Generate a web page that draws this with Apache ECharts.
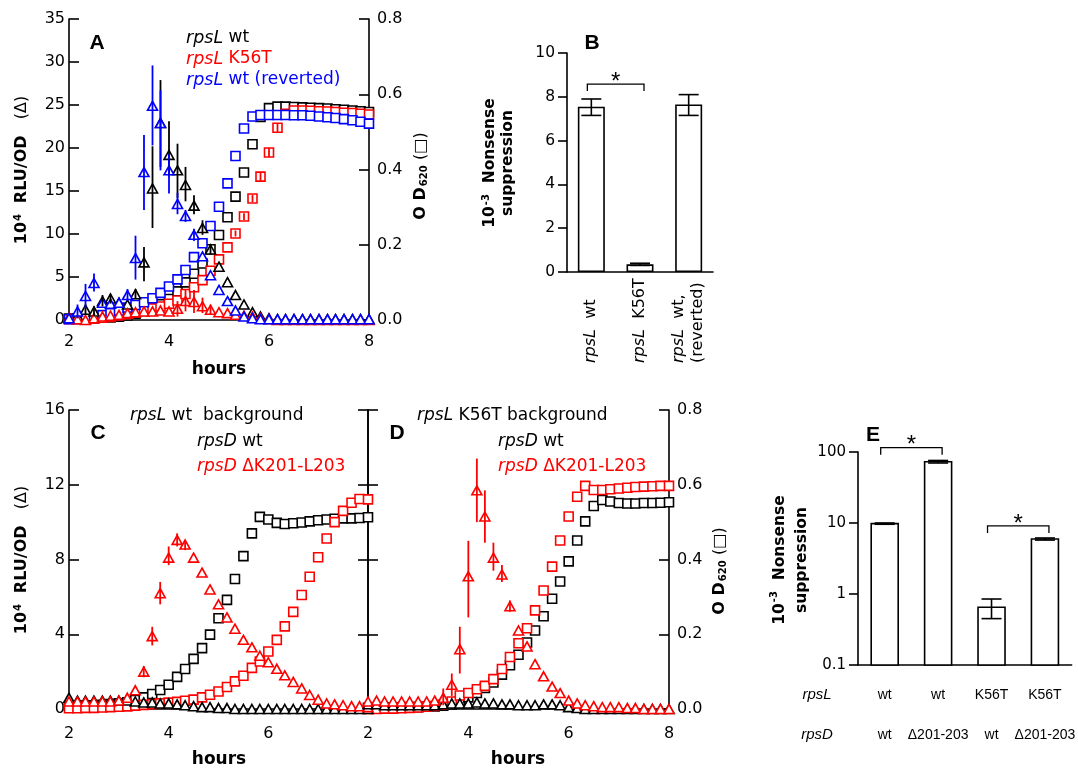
<!DOCTYPE html>
<html>
<head>
<meta charset="utf-8">
<script src="https://cdn.jsdelivr.net/npm/echarts@6/dist/echarts.min.js"></script>
<style>
  html, body { margin: 0; padding: 0; background: #fff; }
  #chart { width: 1078px; height: 770px; }
</style>
</head>
<body>
<div id="chart"></div>
<script>
// sampling times (h), one point every 10 min
const hours = [2.00, 2.17, 2.33, 2.50, 2.67, 2.83, 3.00, 3.17, 3.33, 3.50, 3.67, 3.83, 4.00,
  4.17, 4.33, 4.50, 4.67, 4.83, 5.00, 5.17, 5.33, 5.50, 5.67, 5.83, 6.00, 6.17, 6.33, 6.50,
  6.67, 6.83, 7.00, 7.17, 7.33, 7.50, 7.67, 7.83, 8.00]

// panel A : 10^4 RLU/OD (triangles)
const aWtRlu = [0.3, 0.5, 1.2, 1.0, 2.2, 2.5, 2.0, 1.8, 3.0, 6.7, 15.3, 22.9, 19.2, 17.4, 15.7, 13.3, 10.7,
  8.2, 6.2, 4.4, 2.9, 1.8, 0.9, 0.4, 0.2, 0.1, 0.1, 0.1, 0.1, 0.1, 0.1, 0.1, 0.1, 0.1, 0.1, 0.1, 0.1]
const aK56Rlu = [0.3, 0.1, 0.0, 0.2, 0.4, 0.5, 0.6, 0.8, 0.9, 1.0, 1.0, 1.1, 1.0, 1.3, 2.2, 2.1, 1.6,
  1.2, 0.9, 0.8, 0.6, 0.5, 0.4, 0.2, 0.1, 0.0, 0.0, 0.0, 0.0, 0.0, 0.0, 0.0, 0.0, 0.0, 0.0, 0.0, 0.0]
const aRevRlu = [0.2, 1.0, 2.8, 4.3, 2.0, 1.9, 2.0, 2.9, 7.2, 17.2, 24.9, 22.9, 17.4, 13.5, 12.1, 9.9, 7.4,
  5.2, 3.5, 2.2, 1.1, 0.4, 0.2, 0.1, 0.1, 0.1, 0.1, 0.1, 0.1, 0.1, 0.1, 0.1, 0.1, 0.1, 0.1, 0.1, 0.1]
// error bars [point index, low, high]
const aWtErr = [[2, 0.6, 1.8], [3, 0.4, 1.6], [4, 1.6, 2.9], [5, 1.9, 3.0], [8, 2.5, 3.6], [9, 4.5, 8.5],
  [10, 10.7, 20.2], [11, 17.8, 27.9], [12, 16.7, 23.1], [13, 14.2, 20.5], [14, 13.8, 17.8],
  [15, 12.3, 14.5], [16, 9.9, 11.6], [17, 7.6, 8.8]]
const aK56Err = [[13, 0.4, 2.2], [14, 1.0, 3.6], [15, 0.8, 3.5], [16, 0.8, 2.6], [17, 0.7, 1.7]]
const aRevErr = [[1, 0.2, 1.8], [2, 1.4, 4.2], [3, 3.3, 5.4], [7, 2.2, 3.6], [8, 4.7, 9.8], [9, 12.8, 21.5],
  [10, 20.3, 29.6], [11, 17.4, 26.7], [12, 14.7, 19.3], [13, 12.3, 14.8], [14, 11.4, 12.8], [15, 9.2, 10.6]]

// panel A : OD620 (squares)
const aWtOd = [0.004, 0.004, 0.005, 0.005, 0.006, 0.007, 0.009, 0.012, 0.017, 0.024, 0.032, 0.042, 0.056,
  0.076, 0.100, 0.123, 0.150, 0.188, 0.226, 0.273, 0.328, 0.392, 0.467, 0.540, 0.563, 0.567, 0.567,
  0.566, 0.565, 0.564, 0.563, 0.562, 0.560, 0.559, 0.557, 0.555, 0.553]
const aK56Od = [0.002, 0.002, 0.003, 0.004, 0.006, 0.008, 0.012, 0.016, 0.020, 0.026, 0.031, 0.036, 0.043,
  0.052, 0.069, 0.087, 0.106, 0.131, 0.161, 0.193, 0.230, 0.275, 0.323, 0.381, 0.445, 0.511, 0.548,
  0.557, 0.557, 0.556, 0.555, 0.554, 0.553, 0.551, 0.550, 0.548, 0.546]
const aRevOd = [0.002, 0.003, 0.004, 0.007, 0.013, 0.018, 0.025, 0.033, 0.040, 0.047, 0.058, 0.072, 0.089,
  0.108, 0.133, 0.167, 0.204, 0.250, 0.301, 0.363, 0.436, 0.509, 0.541, 0.545, 0.545, 0.545, 0.545,
  0.544, 0.544, 0.543, 0.541, 0.539, 0.537, 0.534, 0.531, 0.527, 0.522]
const aK56OdErr = [[20, 0.222, 0.238], [21, 0.266, 0.284], [22, 0.313, 0.333], [23, 0.370, 0.392],
  [24, 0.433, 0.457], [25, 0.500, 0.522]]

// panel B
const bCats = ['rpsL wt', 'rpsL K56T', 'rpsL wt, (reverted)']
const bVals = [7.55, 0.35, 7.65]
const bLow = [7.15, 0.30, 7.15]
const bHigh = [7.90, 0.40, 8.10]
const bSig = [[0, 1, 8.58]]

// panel C (rpsL wt background)
const cWtRlu = [0.6, 0.45, 0.45, 0.45, 0.45, 0.45, 0.45, 0.45, 0.4, 0.35, 0.35, 0.3, 0.3, 0.25, 0.2, 0.15,
  0.1, 0.1, 0.05, 0.05, 0.0, 0.0, 0.0, 0.0, 0.0, 0.0, 0.0, 0.0, 0.0, 0.0, 0.0, 0.0, 0.0, 0.0, 0.0, 0.0, 0.0]
const cDelRlu = [0.4, 0.4, 0.4, 0.4, 0.4, 0.4, 0.45, 0.6, 1.0, 2.0, 3.9, 6.2, 8.1, 9.05, 8.8, 8.1, 7.3,
  6.4, 5.6, 4.9, 4.3, 3.7, 3.3, 2.85, 2.5, 2.15, 1.8, 1.45, 1.1, 0.75, 0.5, 0.3, 0.25, 0.2, 0.15, 0.15, 0.1]
const cDelErr = [[9, 1.7, 2.3], [10, 3.4, 4.4], [11, 5.6, 6.8], [12, 7.7, 8.7], [13, 8.7, 9.4], [14, 8.5, 9.0]]
const cWtOd = [0.008, 0.008, 0.009, 0.010, 0.011, 0.013, 0.015, 0.018, 0.024, 0.031, 0.040, 0.051, 0.065,
  0.086, 0.107, 0.134, 0.163, 0.199, 0.243, 0.292, 0.348, 0.409, 0.470, 0.514, 0.507, 0.498, 0.495,
  0.497, 0.499, 0.502, 0.505, 0.507, 0.509, 0.510, 0.510, 0.511, 0.513]
const cDelOd = [0.002, 0.002, 0.003, 0.003, 0.004, 0.005, 0.006, 0.007, 0.009, 0.011, 0.013, 0.015, 0.017,
  0.019, 0.022, 0.025, 0.031, 0.038, 0.047, 0.059, 0.074, 0.089, 0.110, 0.127, 0.154, 0.185, 0.221,
  0.260, 0.305, 0.354, 0.406, 0.456, 0.500, 0.530, 0.552, 0.562, 0.561]

// panel D (rpsL K56T background)
const dWtRlu = [0.25, 0.25, 0.2, 0.2, 0.2, 0.2, 0.2, 0.2, 0.2, 0.25, 0.3, 0.3, 0.3, 0.35, 0.3, 0.3, 0.25,
  0.25, 0.2, 0.2, 0.2, 0.25, 0.25, 0.2, 0.1, 0.05, 0.0, 0.0, 0.0, 0.0, 0.0, 0.0, 0.0, 0.0, 0.0, 0.0, 0.0]
const dDelRlu = [0.4, 0.45, 0.4, 0.4, 0.4, 0.4, 0.4, 0.4, 0.45, 0.6, 1.3, 3.2, 7.1, 11.7, 10.3, 8.1, 7.2,
  5.5, 4.2, 3.35, 2.4, 1.75, 1.2, 0.85, 0.45, 0.3, 0.2, 0.15, 0.1, 0.1, 0.1, 0.05, 0.05, 0.0, 0.0, 0.0, 0.0]
const dDelErr = [[9, 0.2, 1.1], [10, 0.7, 1.9], [11, 1.9, 4.4], [12, 4.9, 9.0], [13, 10.0, 13.4],
  [14, 8.9, 11.7], [15, 7.4, 8.9], [16, 6.8, 7.7], [17, 5.2, 5.8]]
const dWtOd = [0.003, 0.003, 0.003, 0.004, 0.004, 0.005, 0.005, 0.006, 0.007, 0.009, 0.012, 0.020, 0.031,
  0.043, 0.056, 0.071, 0.092, 0.117, 0.145, 0.178, 0.210, 0.248, 0.295, 0.341, 0.395, 0.451, 0.502,
  0.543, 0.559, 0.555, 0.551, 0.550, 0.550, 0.551, 0.551, 0.552, 0.553]
const dDelOd = [0.000, 0.000, 0.001, 0.001, 0.002, 0.003, 0.004, 0.006, 0.008, 0.012, 0.020, 0.036, 0.043,
  0.053, 0.062, 0.080, 0.107, 0.139, 0.176, 0.216, 0.264, 0.317, 0.381, 0.451, 0.515, 0.568, 0.597,
  0.586, 0.586, 0.588, 0.590, 0.592, 0.594, 0.595, 0.596, 0.597, 0.597]

// panel E (log scale)
const eRpsL = ['wt', 'wt', 'K56T', 'K56T']
const eRpsD = ['wt', 'Δ201-203', 'wt', 'Δ201-203']
const eVals = [9.8, 73, 0.65, 5.95]
const eLow = [9.6, 70, 0.45, 5.75]
const eHigh = [10.0, 76, 0.85, 6.15]
const eSig = [[0, 1, 115], [2, 3, 9.1]]

const BLACK = '#000', RED = '#ff0000', BLUE = '#0000ff'
const FONT = 'DejaVu Sans'
const SANS = 'Liberation Sans'

const pts = arr => arr.map((v, i) => [hours[i], v])

function marks(xi, yi, arr, color, symbol, z) {
  return {
    type: 'scatter', xAxisIndex: xi, yAxisIndex: yi, z: z || 3, silent: true,
    data: pts(arr), symbol: symbol,
    symbolSize: symbol === 'triangle' ? [10, 9] : 9,
    itemStyle: { color: '#fff', borderColor: color, borderWidth: 1.6, opacity: 1 }
  }
}

function errLines(xi, yi, list, color) {
  return {
    type: 'custom', xAxisIndex: xi, yAxisIndex: yi, z: 6, silent: true,
    data: list.map(e => [hours[e[0]], e[1], e[2]]),
    renderItem(params, api) {
      const a = api.coord([api.value(0), api.value(1)])
      const b = api.coord([api.value(0), api.value(2)])
      return { type: 'line', shape: { x1: a[0], y1: a[1], x2: b[0], y2: b[1] },
        style: { stroke: color, lineWidth: 1.8 } }
    }
  }
}

function barErr(xi, yi, low, high) {
  return {
    type: 'custom', xAxisIndex: xi, yAxisIndex: yi, z: 6, silent: true,
    data: low.map((v, i) => [i, v, high[i]]),
    renderItem(params, api) {
      const a = api.coord([api.value(0), api.value(1)])
      const b = api.coord([api.value(0), api.value(2)])
      const st = { stroke: BLACK, lineWidth: 1.6 }
      return { type: 'group', children: [
        { type: 'line', shape: { x1: a[0], y1: a[1], x2: b[0], y2: b[1] }, style: st },
        { type: 'line', shape: { x1: a[0] - 10, y1: a[1], x2: a[0] + 10, y2: a[1] }, style: st },
        { type: 'line', shape: { x1: b[0] - 10, y1: b[1], x2: b[0] + 10, y2: b[1] }, style: st }
      ] }
    }
  }
}

// bars of a log axis drawn up from the axis minimum
function logBars(xi, yi, vals, base) {
  return {
    type: 'custom', xAxisIndex: xi, yAxisIndex: yi, z: 4, silent: true,
    data: vals.map((v, i) => [i, v]),
    renderItem(params, api) {
      const b = api.coord([api.value(0), base])
      const t = api.coord([api.value(0), api.value(1)])
      return { type: 'rect', shape: { x: b[0] - 13.5, y: t[1], width: 27, height: b[1] - t[1] },
        style: { fill: '#fff', stroke: BLACK, lineWidth: 1.6 } }
    }
  }
}

function brackets(xi, yi, list) {
  return {
    type: 'custom', xAxisIndex: xi, yAxisIndex: yi, z: 6, silent: true, clip: false,
    data: list,
    renderItem(params, api) {
      const p0 = api.coord([api.value(0), api.value(2)])
      const p1 = api.coord([api.value(1), api.value(2)])
      const x0 = p0[0] - 4, x1 = p1[0] + 4, y = p0[1]
      return { type: 'group', children: [
        { type: 'polyline', shape: { points: [[x0, y + 7], [x0, y], [x1, y], [x1, y + 7]] },
          style: { stroke: BLACK, lineWidth: 1.3, fill: null } },
        { type: 'text', x: (x0 + x1) / 2, y: y - 2,
          style: { text: '*', fontSize: 24, fontFamily: SANS, fill: BLACK, align: 'center', verticalAlign: 'middle' } }
      ] }
    }
  }
}

const axisLine = { show: true, lineStyle: { color: BLACK, width: 1.6 } }
const lbl = { color: BLACK, fontSize: 16, fontFamily: FONT }

function timeX(grid, fmt) {
  return {
    type: 'value', gridIndex: grid, min: 2, max: 8, interval: 2,
    axisLine: axisLine, axisTick: { show: false }, splitLine: { show: false },
    axisLabel: Object.assign({ margin: grid === 0 ? 14 : 17, formatter: fmt }, lbl)
  }
}
function valY(grid, min, max, step, pos, labels, fmt) {
  return {
    type: 'value', gridIndex: grid, min: min, max: max, interval: step, position: pos,
    axisLine: axisLine, splitLine: { show: false },
    axisTick: { show: true, inside: true, length: 10, lineStyle: { color: BLACK, width: 1.6 } },
    axisLabel: Object.assign({ show: labels, margin: pos === 'right' ? 8 : 4, formatter: fmt }, lbl)
  }
}
const od = v => v.toFixed(1)
const outTick = { show: true, inside: false, length: 9, lineStyle: { color: BLACK, width: 1.6 } }

function txt(x, y, text, opt) {
  opt = opt || {}
  return {
    type: 'text', x: x, y: y, rotation: opt.rot || 0, silent: true,
    style: {
      text: text, fill: opt.color || BLACK, fontFamily: opt.family || FONT,
      fontSize: opt.size || 17, fontWeight: opt.bold ? 'bold' : 'normal',
      fontStyle: opt.italic ? 'italic' : 'normal',
      align: opt.align || 'center', verticalAlign: 'middle', lineHeight: opt.lh,
      rich: opt.rich
    }
  }
}
const richAll = (size, color) => ({
  i: { fontStyle: 'italic', fontSize: size, fontFamily: FONT, fill: color, color: color },
  b: { fontWeight: 'bold', fontSize: size, fontFamily: FONT },
  sup: { fontWeight: 'bold', fontSize: 10, fontFamily: FONT, verticalAlign: 'top', padding: [0, 0, 6, 1] },
  sub: { fontWeight: 'bold', fontSize: 10, fontFamily: FONT, verticalAlign: 'bottom', padding: [6, 0, 0, 1] },
  n: { fontSize: size, fontFamily: FONT }
})
const R90 = Math.PI / 2
const rluTitle = '{b|10}{sup|4}  {b|RLU/OD}   {n|(Δ)}'
const odTitle = '{b|O D}{sub|620} {n|(□)}'
const nsTitle = '{b|10}{sup|-3}  {b|Nonsense}\n{b|suppression}'

const option = {
  animation: false,
  backgroundColor: '#fff',
  textStyle: { fontFamily: FONT },
  grid: [
    { left: 69, top: 19, width: 300, height: 301 },
    { left: 567, top: 53, width: 146, height: 219 },
    { left: 69, top: 410, width: 299, height: 299 },
    { left: 368, top: 410, width: 301, height: 299 },
    { left: 858, top: 452, width: 216, height: 213 }
  ],
  xAxis: [
    timeX(0),
    {
      type: 'category', gridIndex: 1, data: bCats, axisLine: axisLine, axisTick: { show: false },
      axisLabel: {
        interval: 0, rotate: 90, align: 'left', verticalAlign: 'middle', margin: 91, lineHeight: 19,
        color: BLACK, fontSize: 16, fontFamily: FONT,
        formatter: v => v.replace('rpsL ', '{i|rpsL}  ').replace(', ', ',\n'),
        rich: { i: { fontStyle: 'italic', fontSize: 16, fontFamily: FONT, color: BLACK } }
      }
    },
    timeX(2, v => (v === 8 ? '' : v)),
    timeX(3),
    {
      type: 'category', gridIndex: 4, data: eRpsL.map((v, i) => i), axisLine: axisLine,
      axisTick: { show: false },
      axisLabel: {
        interval: 0, margin: 10, color: BLACK, fontSize: 14, fontFamily: SANS, lineHeight: 40,
        formatter: (v, i) => eRpsL[i] + '\n' + eRpsD[i]
      }
    }
  ],
  yAxis: [
    valY(0, 0, 35, 5, 'left', true),
    valY(0, 0, 0.8, 0.2, 'right', true, od),
    Object.assign(valY(1, 0, 10, 2, 'left', true), {
      axisTick: outTick,
      axisLabel: Object.assign({}, lbl, { fontSize: 15.5, margin: 12 })
    }),
    valY(2, 0, 16, 4, 'left', true),
    valY(2, 0, 0.8, 0.2, 'right', false),
    valY(3, 0, 16, 4, 'left', false),
    valY(3, 0, 0.8, 0.2, 'right', true, od),
    {
      type: 'log', gridIndex: 4, logBase: 10, min: 0.1, max: 100,
      axisLine: axisLine, splitLine: { show: false }, minorTick: { show: false },
      axisTick: outTick,
      axisLabel: Object.assign({}, lbl, { fontSize: 15, margin: 12,
        formatter: v => (v < 1 ? v.toFixed(1) : String(Math.round(v))) })
    }
  ],
  series: [
    // A
    marks(0, 1, aWtOd, BLACK, 'rect'),
    marks(0, 1, aK56Od, RED, 'rect'),
    marks(0, 1, aRevOd, BLUE, 'rect'),
    errLines(0, 1, aK56OdErr, RED),
    marks(0, 0, aWtRlu, BLACK, 'triangle', 4),
    marks(0, 0, aK56Rlu, RED, 'triangle', 4),
    marks(0, 0, aRevRlu, BLUE, 'triangle', 4),
    errLines(0, 0, aWtErr, BLACK),
    errLines(0, 0, aK56Err, RED),
    errLines(0, 0, aRevErr, BLUE),
    // B
    { type: 'bar', xAxisIndex: 1, yAxisIndex: 2, data: bVals, barWidth: 27, silent: true,
      itemStyle: { color: '#fff', borderColor: BLACK, borderWidth: 1.6 } },
    barErr(1, 2, bLow, bHigh),
    brackets(1, 2, bSig),
    // C
    marks(2, 4, cWtOd, BLACK, 'rect'),
    marks(2, 4, cDelOd, RED, 'rect'),
    marks(2, 3, cWtRlu, BLACK, 'triangle', 4),
    marks(2, 3, cDelRlu, RED, 'triangle', 4),
    errLines(2, 3, cDelErr, RED),
    // D
    marks(3, 6, dWtOd, BLACK, 'rect'),
    marks(3, 6, dDelOd, RED, 'rect'),
    marks(3, 5, dWtRlu, BLACK, 'triangle', 4),
    marks(3, 5, dDelRlu, RED, 'triangle', 4),
    errLines(3, 5, dDelErr, RED),
    // E
    logBars(4, 7, eVals, 0.1),
    barErr(4, 7, eLow, eHigh),
    brackets(4, 7, eSig)
  ],
  graphic: [
    // panel A
    txt(97, 43, 'A', { bold: true, size: 21, family: SANS }),
    txt(186, 38, '{i|rpsL} wt', { align: 'left', rich: richAll(17.5, BLACK) }),
    txt(186, 59, '{i|rpsL} K56T', { align: 'left', color: RED, rich: richAll(17.5, RED) }),
    txt(186, 80, '{i|rpsL} wt (reverted)', { align: 'left', color: BLUE, rich: richAll(17.5, BLUE) }),
    txt(22, 170, rluTitle, { rot: R90, rich: richAll(16, BLACK) }),
    txt(421, 176, odTitle, { rot: R90, rich: richAll(16, BLACK) }),
    txt(219, 370, 'hours', { bold: true, size: 17 }),
    // panel B
    txt(592, 43, 'B', { bold: true, size: 21, family: SANS }),
    txt(499, 163, nsTitle, { rot: R90, lh: 18, rich: richAll(15.5, BLACK) }),
    // panel C
    txt(98, 433, 'C', { bold: true, size: 21, family: SANS }),
    txt(130, 416, '{i|rpsL} wt  background', { align: 'left', rich: richAll(17, BLACK) }),
    txt(197, 442, '{i|rpsD} wt', { align: 'left', rich: richAll(17, BLACK) }),
    txt(197, 467, '{i|rpsD} ΔK201-L203', { align: 'left', color: RED, rich: richAll(17, RED) }),
    txt(22, 560, rluTitle, { rot: R90, rich: richAll(16, BLACK) }),
    txt(219, 760, 'hours', { bold: true, size: 17 }),
    // panel D
    txt(397, 433, 'D', { bold: true, size: 21, family: SANS }),
    txt(417, 416, '{i|rpsL} K56T background', { align: 'left', rich: richAll(17, BLACK) }),
    txt(498, 442, '{i|rpsD} wt', { align: 'left', rich: richAll(17, BLACK) }),
    txt(498, 467, '{i|rpsD} ΔK201-L203', { align: 'left', color: RED, rich: richAll(17, RED) }),
    txt(720, 571, odTitle, { rot: R90, rich: richAll(16, BLACK) }),
    txt(518, 760, 'hours', { bold: true, size: 17 }),
    // panel E
    txt(873, 435, 'E', { bold: true, size: 21, family: SANS }),
    txt(791, 560, nsTitle, { rot: R90, lh: 22, rich: richAll(15.5, BLACK) }),
    txt(817, 695, 'rpsL', { size: 15, family: SANS, italic: true }),
    txt(817, 735, 'rpsD', { size: 15, family: SANS, italic: true })
  ]
}

echarts.init(document.getElementById('chart'), null, { renderer: 'canvas' }).setOption(option)
</script>
</body>
</html>
